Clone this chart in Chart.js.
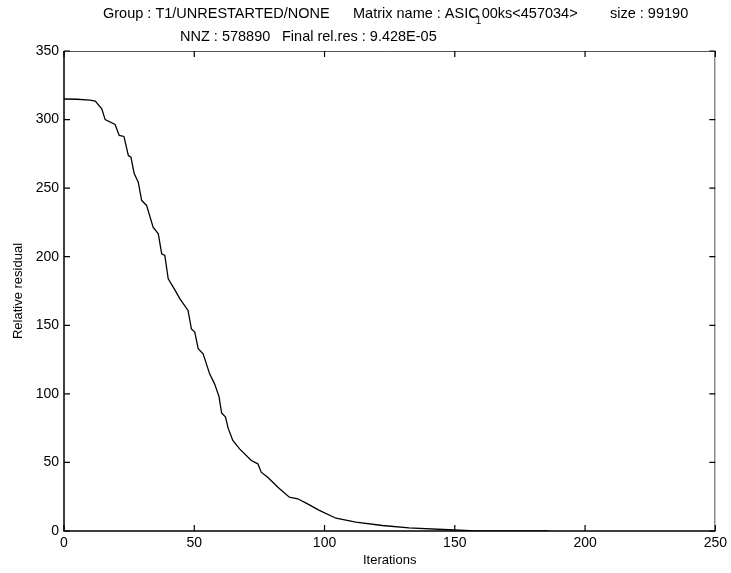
<!DOCTYPE html>
<html lang="en">
<head>
    <meta charset="UTF-8">
    <title>Relative residual vs Iterations</title>
    <script src="https://cdn.jsdelivr.net/npm/chart.js"></script>
    <style>
        html, body { margin: 0; padding: 0; background: #fff; }
        .chart-container { width: 731px; height: 573px; }
    </style>
</head>
<body>
    <div class="chart-container">
        <canvas id="myChart" width="731" height="573"></canvas>
    </div>

    <script>
        // values
        const iterations = [0, 5, 10, 12, 14.5, 15.8, 19.6, 21.2, 23, 24.7, 25.7, 26.9, 28.5, 29.8,
            31.7, 34.2, 36.2, 37.5, 38.7, 40, 42.5, 44.5, 47.6, 48.9, 50.2, 51.5, 53.4, 55.9,
            57.8, 59.5, 60.5, 62, 63, 64.8, 67.4, 71.9, 74.4, 75.7, 78.2, 82.1, 86.5, 89.7,
            93.5, 98, 104.4, 112, 122.2, 132.4, 147.7, 158, 170, 186];
        const residuals = [315, 314.8, 314.2, 313.4, 307.9, 300, 296.4, 288.4, 287.7, 273.8, 272.6, 260.9, 254.3, 241,
            237.4, 221.5, 216.7, 202.1, 200.9, 183.9, 176, 169.3, 160.8, 147.4, 145, 132.9, 129.2, 114.6,
            107.3, 98, 86, 83, 75, 66, 59.9, 51.4, 49, 42.9, 39.2, 31.9, 24.6, 23.5,
            19.8, 15, 9.3, 6.4, 4, 2.3, 0.9, 0.1, 0.05, 0.03];

        const xTickValues = [0, 50, 100, 150, 200, 250];
        const yTickValues = [0, 50, 100, 150, 200, 250, 300, 350];

        const titleLine1 = ['Group : T1/UNRESTARTED/NONE', 'Matrix name : ASIC', '1', '00ks<457034>', 'size : 99190'];
        const titleLine2 = ['NNZ : 578890', 'Final rel.res : 9.428E-05'];

        const FONT = '"Liberation Sans", Arial, Helvetica, sans-serif';

        // matlab-like box with inward ticks on all four sides
        const boxPlugin = {
            id: 'box',
            afterDraw(chart) {
                const ctx = chart.ctx;
                const a = chart.chartArea;
                const xs = chart.scales.x, ys = chart.scales.y;
                const len = 6;
                ctx.save();
                ctx.strokeStyle = '#555';
                ctx.lineWidth = 1;
                ctx.beginPath();
                ctx.moveTo(a.left, a.top + 0.5);
                ctx.lineTo(a.right, a.top + 0.5);
                ctx.moveTo(a.right - 0.5, a.top);
                ctx.lineTo(a.right - 0.5, a.bottom);
                ctx.stroke();
                ctx.strokeStyle = '#000';
                ctx.lineWidth = 1.5;
                ctx.beginPath();
                ctx.moveTo(a.left, a.top);
                ctx.lineTo(a.left, a.bottom);
                ctx.lineTo(a.right, a.bottom);
                ctx.stroke();
                ctx.lineWidth = 1.2;
                ctx.beginPath();
                xTickValues.forEach(v => {
                    const p = xs.getPixelForValue(v);
                    ctx.moveTo(p, a.bottom); ctx.lineTo(p, a.bottom - len);
                    ctx.moveTo(p, a.top); ctx.lineTo(p, a.top + len);
                });
                yTickValues.forEach(v => {
                    const p = ys.getPixelForValue(v);
                    ctx.moveTo(a.left, p); ctx.lineTo(a.left + len, p);
                    ctx.moveTo(a.right, p); ctx.lineTo(a.right - len, p);
                });
                ctx.stroke();

                // title, two lines
                ctx.fillStyle = '#000';
                ctx.textBaseline = 'middle';
                ctx.textAlign = 'left';
                ctx.font = '14.5px ' + FONT;
                ctx.fillText(titleLine1[0], 103, 14);
                ctx.fillText(titleLine1[1], 353, 14);
                const w = ctx.measureText(titleLine1[1]).width;
                ctx.font = '10px ' + FONT;
                ctx.fillText(titleLine1[2], 353 + w - 3, 21);
                ctx.font = '14.5px ' + FONT;
                ctx.fillText(titleLine1[3], 353 + w + 3, 14);
                ctx.fillText(titleLine1[4], 610, 14);
                ctx.fillText(titleLine2[0], 180, 37);
                ctx.fillText(titleLine2[1], 282, 37);
                ctx.restore();
            }
        };

        const ctx = document.getElementById('myChart').getContext('2d');
        new Chart(ctx, {
            type: 'line',
            data: {
                labels: iterations,
                datasets: [{
                    label: 'Relative residual',
                    data: iterations.map((x, i) => ({ x: x, y: residuals[i] })),
                    borderColor: '#000',
                    borderWidth: 1.3,
                    pointRadius: 0,
                    fill: false,
                    tension: 0
                }]
            },
            options: {
                responsive: false,
                animation: false,
                layout: { padding: { left: 0, right: 14, top: 51, bottom: 0 } },
                plugins: {
                    legend: { display: false },
                    tooltip: { enabled: false }
                },
                scales: {
                    x: {
                        type: 'linear',
                        min: 0,
                        max: 250,
                        afterBuildTicks: s => { s.ticks = xTickValues.map(v => ({ value: v })); },
                        afterFit: s => { s.height = 42; },
                        grid: { display: false, drawTicks: false },
                        border: { display: false },
                        ticks: { color: '#000', font: { family: FONT, size: 14 }, padding: 4, maxRotation: 0 },
                        title: { display: true, text: 'Iterations', color: '#000', font: { family: FONT, size: 13 }, padding: { top: 0, bottom: 5 } }
                    },
                    y: {
                        min: 0,
                        max: 350,
                        afterBuildTicks: s => { s.ticks = yTickValues.map(v => ({ value: v })); },
                        afterFit: s => { s.width = 64; },
                        grid: { display: false, drawTicks: false },
                        border: { display: false },
                        ticks: { color: '#000', font: { family: FONT, size: 14 }, padding: 5 },
                        title: { display: true, text: 'Relative residual', color: '#000', font: { family: FONT, size: 13 }, padding: { top: 11, bottom: 0 } }
                    }
                }
            },
            plugins: [boxPlugin]
        });
    </script>
</body>
</html>
